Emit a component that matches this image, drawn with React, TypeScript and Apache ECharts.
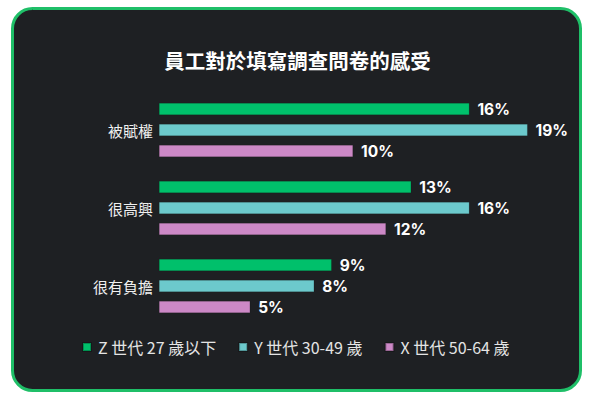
import React, { useEffect, useRef } from "react";
import * as echarts from "echarts";

const categories = ["被賦權", "很高興", "很有負擔"];
const seriesNames = ["Z 世代 27 歲以下", "Y 世代 30-49 歲", "X 世代 50-64 歲"];
const genZ = [16, 13, 8.9];
const genY = [19, 16, 8];
const genX = [10, 11.7, 4.7];
const colors = ["#00c06b", "#6cc9cc", "#cc88c6"];
const titleText = "員工對於填寫調查問卷的感受";

export default function App() {
  const ref = useRef<HTMLDivElement>(null);
  useEffect(() => {
    if (!ref.current) return;
    const chart = echarts.init(ref.current, undefined, { renderer: "svg" });
    const dataSets = [genZ, genY, genX];
    chart.setOption({
      animation: false,
      backgroundColor: "#ffffff",
      graphic: [
        {
          type: "rect",
          z: -10,
          shape: { x: 12.5, y: 8.5, width: 568, height: 382, r: 20 },
          style: { fill: "#1e2023", stroke: "#1fbf68", lineWidth: 3 },
        },
      ],
      title: {
        text: titleText,
        left: "center",
        top: 45,
        textStyle: {
          color: "#ffffff",
          fontSize: 20.5,
          fontWeight: "bold",
          fontFamily: "Noto Sans CJK TC",
        },
      },
      legend: {
        data: seriesNames,
        bottom: 40,
        left: 77,
        itemWidth: 8,
        itemHeight: 8,
        itemGap: 22,
        icon: "rect",
        textStyle: {
          color: "#e4e4e4",
          fontSize: 16,
          fontFamily: "Noto Sans CJK TC",
          padding: [0, 0, 0, 2],
        },
      },
      grid: { left: 159, right: 48, top: 91, height: 234 },
      xAxis: {
        type: "value",
        min: 0,
        max: 20,
        show: false,
      },
      yAxis: {
        type: "category",
        data: categories,
        inverse: true,
        axisLine: { show: false },
        axisTick: { show: false },
        axisLabel: {
          color: "#f0f0f0",
          fontSize: 15,
          margin: 6,
          fontFamily: "Noto Sans CJK TC",
        },
      },
      series: seriesNames.map((name, i) => ({
        name,
        type: "bar",
        data: dataSets[i],
        barWidth: 12,
        barGap: "75%",
        itemStyle: {
          color: colors[i],
          borderColor: "rgba(0,0,0,0.25)",
          borderWidth: 0.5,
        },
        label: {
          show: true,
          position: "right",
          distance: 8,
          formatter: (p: any) => Math.round(p.value) + "%",
          color: "#ffffff",
          fontSize: 15.5,
          fontWeight: "bold",
          fontFamily: "Inter",
        },
      })),
    });
    return () => chart.dispose();
  }, []);
  return (
    <div
      ref={ref}
      style={{ position: "absolute", left: 0, top: 0, width: 595, height: 400 }}
    />
  );
}
